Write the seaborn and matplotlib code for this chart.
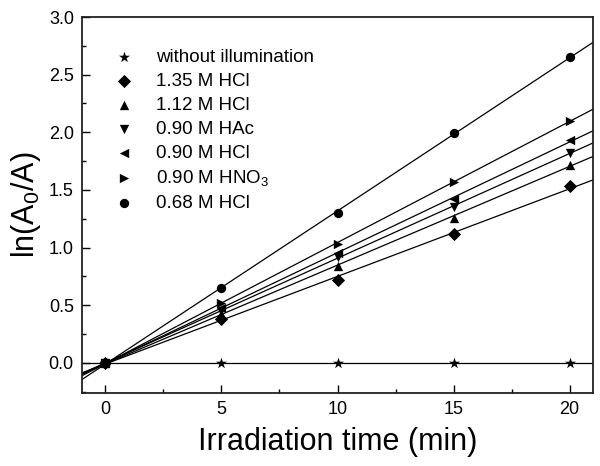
import numpy as np
import matplotlib
matplotlib.use("Agg")
import matplotlib.pyplot as plt
from matplotlib.ticker import MultipleLocator
import seaborn as sns

time_min = [0, 5, 10, 15, 20]

labels = ['without illumination', '1.35 M HCl', '1.12 M HCl', '0.90 M HAc',
          '0.90 M HCl', '0.90 M HNO$_3$', '0.68 M HCl']
markers = ['*', 'D', '^', 'v', '<', '>', 'o']

dark = [0.0, 0.0, 0.0, 0.0, 0.0]
hcl_135 = [0.0, 0.38, 0.72, 1.12, 1.53]
hcl_112 = [0.0, 0.42, 0.84, 1.26, 1.72]
hac_090 = [0.0, 0.45, 0.92, 1.35, 1.82]
hcl_090 = [0.0, 0.48, 0.95, 1.42, 1.93]
hno3_090 = [0.0, 0.52, 1.03, 1.57, 2.10]
hcl_068 = [0.0, 0.65, 1.30, 1.99, 2.65]
series = [dark, hcl_135, hcl_112, hac_090, hcl_090, hno3_090, hcl_068]

sns.set_style("ticks", {'text.color': 'black', 'axes.labelcolor': 'black',
                        'xtick.color': 'black', 'ytick.color': 'black'})
plt.rcParams['font.family'] = ['Liberation Sans', 'DejaVu Sans']
plt.rcParams['mathtext.fontset'] = 'custom'
plt.rcParams['mathtext.rm'] = 'Liberation Sans'
plt.rcParams['mathtext.it'] = 'Liberation Sans'

fig = plt.figure(figsize=(6, 4.66), dpi=100)
ax = fig.add_axes([0.137, 0.157, 0.851, 0.8065])
ax.set_xlim(-1, 21)
ax.set_ylim(-0.26, 3.0)

for lab, m, vals in zip(labels, markers, series):
    sz = 70 if m == '*' else 45
    sns.regplot(x=np.array(time_min, dtype=float), y=np.array(vals), ax=ax,
                ci=None, truncate=False, marker=m, color='black', label=lab,
                scatter_kws={'s': sz, 'alpha': 1, 'linewidths': 0, 'zorder': 3},
                line_kws={'lw': 0.9, 'zorder': 2})

ax.set_xlim(-1, 21)
ax.set_ylim(-0.26, 3.0)
ax.xaxis.set_major_locator(MultipleLocator(5))
ax.xaxis.set_minor_locator(MultipleLocator(2.5))
ax.yaxis.set_major_locator(MultipleLocator(0.5))
ax.yaxis.set_minor_locator(MultipleLocator(0.25))
ax.tick_params(which='both', direction='in', width=1, color='black',
               labelcolor='black')
ax.tick_params(which='major', length=6, labelsize=13, pad=6)
ax.tick_params(which='minor', length=3)
for sp in ax.spines.values():
    sp.set_linewidth(1.3)
    sp.set_color('#222222')

ax.set_xlabel('Irradiation time (min)', fontsize=22, labelpad=6, color='black')
ax.set_ylabel('ln(A$_0$/A)', fontsize=22, labelpad=4, color='black')

ax.legend(loc='upper left', bbox_to_anchor=(0.045, 0.935), frameon=False,
          fontsize=13.5, handletextpad=1.1, labelspacing=0.36, handlelength=1.2,
          borderaxespad=0, labelcolor='black')

fig.savefig('out.png', dpi=100)
